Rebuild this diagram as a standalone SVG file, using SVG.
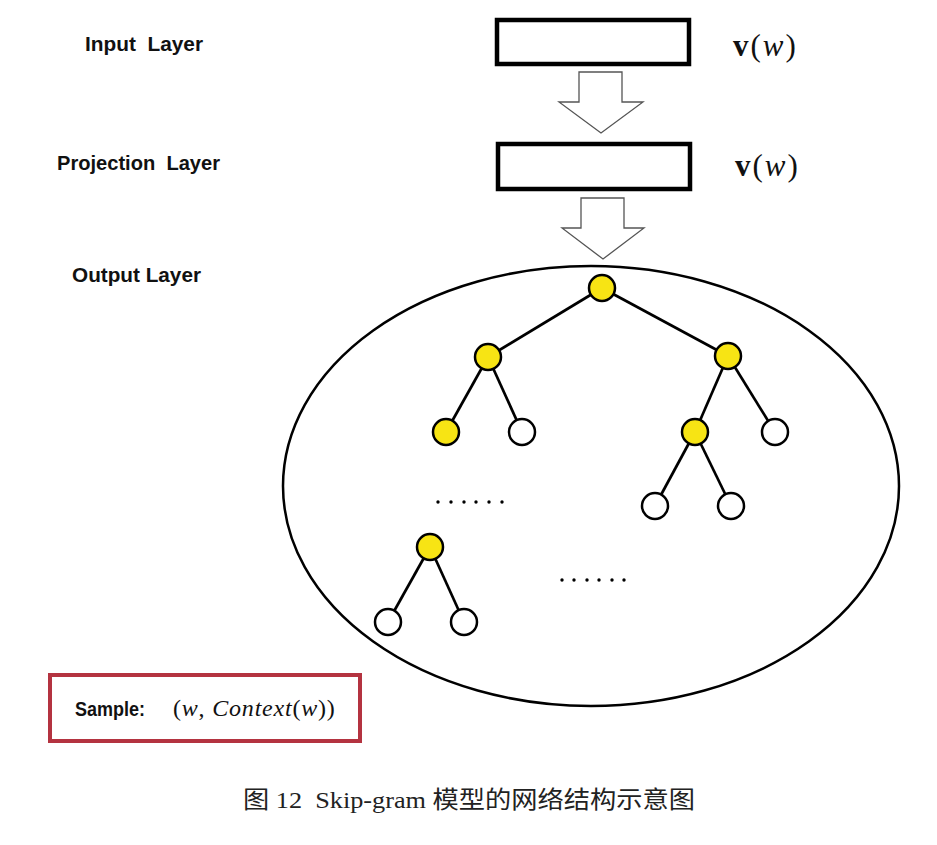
<svg xmlns="http://www.w3.org/2000/svg" width="937" height="845" viewBox="0 0 937 845">
<style>
.lbl{font-family:"Liberation Sans","DejaVu Sans",sans-serif;font-weight:bold;font-size:20px;fill:#111;white-space:pre}
.math{font-family:"Liberation Serif","DejaVu Serif",serif;font-size:31px;fill:#111;letter-spacing:2px}
.box{fill:#fff;stroke:#000;stroke-width:4.5}
.arr{fill:#fff;stroke:#555;stroke-width:1.3}
.edge{stroke:#000;stroke-width:2.7;fill:none}
.y{fill:#f7e414;stroke:#000;stroke-width:2.5}
.w{fill:#fff;stroke:#000;stroke-width:2.5}
.dot{fill:#000}
</style>
<rect width="937" height="845" fill="#fff"/>
<g id="labels">
<text class="lbl" x="85" y="51" textLength="118" lengthAdjust="spacingAndGlyphs">Input  Layer</text>
<text class="lbl" x="57" y="170" textLength="163" lengthAdjust="spacingAndGlyphs">Projection  Layer</text>
<text class="lbl" x="72" y="282" textLength="129" lengthAdjust="spacingAndGlyphs">Output Layer</text>
</g>
<g id="input-layer">
<rect class="box" x="497" y="20" width="192" height="44"/>
<text class="math" x="733" y="56"><tspan font-weight="bold">v</tspan>(<tspan font-style="italic">w</tspan>)</text>
</g>
<g id="projection-layer">
<rect class="box" x="498" y="144" width="192" height="45"/>
<text class="math" x="735" y="176"><tspan font-weight="bold">v</tspan>(<tspan font-style="italic">w</tspan>)</text>
</g>
<g id="arrows">
<polygon class="arr" points="579,72 622,72 622,102 643,102 601,133 559,102 579,102"/>
<polygon class="arr" points="581,198 624,198 624,228 644,228 603,259 562,228 581,228"/>
</g>
<g id="output-layer">
<ellipse cx="591" cy="486" rx="308" ry="220" fill="none" stroke="#000" stroke-width="2.5"/>
</g>
<g id="connectors">
<line class="edge" x1="602" y1="288" x2="488" y2="357"/>
<line class="edge" x1="602" y1="288" x2="728" y2="356"/>
<line class="edge" x1="488" y1="357" x2="446" y2="432"/>
<line class="edge" x1="488" y1="357" x2="522" y2="432"/>
<line class="edge" x1="728" y1="356" x2="695" y2="432"/>
<line class="edge" x1="728" y1="356" x2="775" y2="432"/>
<line class="edge" x1="695" y1="432" x2="655" y2="506"/>
<line class="edge" x1="695" y1="432" x2="731" y2="506"/>
<line class="edge" x1="430" y1="547" x2="388" y2="622"/>
<line class="edge" x1="430" y1="547" x2="464" y2="622"/>
</g>
<g id="n-root"><circle class="y" cx="602" cy="288" r="13"/></g>
<g id="n-l1"><circle class="y" cx="488" cy="357" r="13"/></g>
<g id="n-r1"><circle class="y" cx="728" cy="356" r="13"/></g>
<g id="n-l2a"><circle class="y" cx="446" cy="432" r="13"/></g>
<g id="n-l2b"><circle class="w" cx="522" cy="432" r="13"/></g>
<g id="n-r2a"><circle class="y" cx="695" cy="432" r="13"/></g>
<g id="n-r2b"><circle class="w" cx="775" cy="432" r="13"/></g>
<g id="n-r3a"><circle class="w" cx="655" cy="506" r="13"/></g>
<g id="n-r3b"><circle class="w" cx="731" cy="506" r="13"/></g>
<g id="n-b"><circle class="y" cx="430" cy="547" r="13"/></g>
<g id="n-ba"><circle class="w" cx="388" cy="622" r="13"/></g>
<g id="n-bb"><circle class="w" cx="464" cy="622" r="13"/></g>
<g id="dots1">
<circle class="dot" cx="438" cy="502" r="1.7"/><circle class="dot" cx="451" cy="502" r="1.7"/><circle class="dot" cx="464" cy="502" r="1.7"/><circle class="dot" cx="476" cy="502" r="1.7"/><circle class="dot" cx="489" cy="502" r="1.7"/><circle class="dot" cx="502" cy="502" r="1.7"/>
</g>
<g id="dots2">
<circle class="dot" cx="562" cy="580" r="1.7"/><circle class="dot" cx="574" cy="580" r="1.7"/><circle class="dot" cx="587" cy="580" r="1.7"/><circle class="dot" cx="599" cy="580" r="1.7"/><circle class="dot" cx="612" cy="580" r="1.7"/><circle class="dot" cx="624" cy="580" r="1.7"/>
</g>
<g id="sample">
<rect x="50" y="675" width="310" height="66" fill="#fff" stroke="#b43340" stroke-width="4"/>
<text class="lbl" x="75" y="716" font-size="21" textLength="70" lengthAdjust="spacingAndGlyphs">Sample:</text>
<text x="173" y="716" font-family="Liberation Serif, DejaVu Serif, serif" font-size="24" fill="#111" letter-spacing="0.8">(<tspan font-style="italic">w</tspan>, <tspan font-style="italic">Context</tspan>(<tspan font-style="italic">w</tspan>))</text>
</g>
<g id="caption">
<text x="243" y="808" font-family="Liberation Serif, Noto Sans CJK SC, serif" font-size="24" fill="#222" textLength="452" lengthAdjust="spacingAndGlyphs" style="white-space:pre">图 12  Skip-gram 模型的网络结构示意图</text>
</g>
</svg>
